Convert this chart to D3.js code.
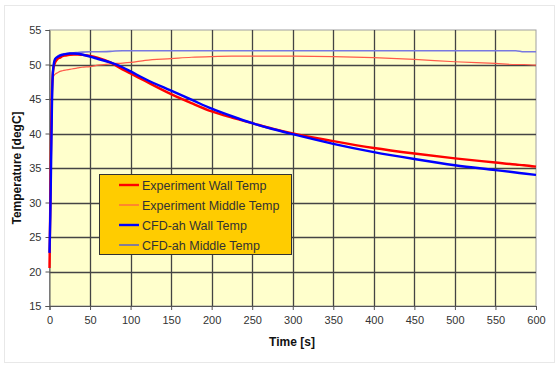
<!DOCTYPE html>
<html><head><meta charset="utf-8">
<script src="https://cdn.jsdelivr.net/npm/d3@7/dist/d3.min.js"></script>
<style>html,body{margin:0;padding:0;background:#fff}svg{display:block}</style>
</head><body><svg id="c" width="560" height="368"></svg>
<script>
const times = [0,1,2,3,4,5,7,10,13,16,20,25,30,35,40,50,60,75,90,100,118,150,175,200,225,250,275,300,350,400,450,500,550,575,585,600];
const expWall = [20.5,30,40,46,48.5,49.5,50.3,50.8,51.0,51.2,51.3,51.4,51.45,51.45,51.4,51.25,50.95,50.3,49.3,48.7,47.6,45.7,44.4,43.2,42.3,41.5,40.7,40.0,38.9,37.9,37.1,36.4,35.8,35.5,35.4,35.2];
const expMiddle = [21,30,40,46.5,47.8,48.3,48.6,48.8,49.0,49.1,49.2,49.3,49.4,49.5,49.6,49.7,49.9,50.1,50.2,50.3,50.6,50.85,51.05,51.15,51.2,51.2,51.2,51.2,51.15,51.0,50.75,50.4,50.15,50.0,50.0,49.9];
const cfdWall = [22.7,28,36,44,48.5,49.8,50.8,51.1,51.3,51.4,51.5,51.6,51.6,51.55,51.45,51.15,50.8,50.3,49.6,49.0,47.9,46.2,44.9,43.6,42.5,41.5,40.65,39.9,38.5,37.3,36.3,35.4,34.7,34.35,34.2,34.0];
const cfdMiddle = [22.7,28,36,44,48.5,49.8,50.8,51.2,51.4,51.5,51.6,51.65,51.7,51.75,51.8,51.85,51.85,51.9,52.0,52.0,52.0,52.0,52.0,52.0,52.0,52.0,52.0,52.0,52.0,52.0,52.0,52.0,52.0,52.0,51.85,51.85];
const seriesNames = ["Experiment Wall Temp","Experiment Middle Temp","CFD-ah Wall Temp","CFD-ah Middle Temp"];
const xTicks = [0,50,100,150,200,250,300,350,400,450,500,550,600];
const yTicks = [15,20,25,30,35,40,45,50,55];

const svg = d3.select("#c");
const m = {l:49.5, r:536, t:30, b:306};
const x = d3.scaleLinear().domain([0,600]).range([m.l,m.r]);
const y = d3.scaleLinear().domain([15,55]).range([m.b,m.t]);

// outer frame
svg.append("rect").attr("x",4.5).attr("y",5.5).attr("width",550).attr("height",357)
  .attr("fill","#fff").attr("stroke","#e8e8e8");

// plot background
svg.append("rect").attr("x",m.l).attr("y",m.t).attr("width",m.r-m.l).attr("height",m.b-m.t)
  .attr("fill","#FFFFCC").attr("stroke","#a0a0a0");

// grid
const g = svg.append("g");
g.selectAll(".vg").data(xTicks.slice(1,-1)).join("line")
  .attr("x1",d=>Math.round(x(d))+0.5).attr("x2",d=>Math.round(x(d))+0.5)
  .attr("y1",m.t).attr("y2",m.b).attr("stroke","#444").attr("stroke-width",1.3);
g.selectAll(".hg").data(yTicks.slice(1,-1)).join("line")
  .attr("y1",d=>Math.round(y(d))+0.5).attr("y2",d=>Math.round(y(d))+0.5)
  .attr("x1",m.l).attr("x2",m.r).attr("stroke","#444").attr("stroke-width",1.3);

// axes
const xa = svg.append("g").attr("transform",`translate(0,${m.b})`)
  .call(d3.axisBottom(x).tickValues(xTicks).tickSize(4).tickPadding(6).tickFormat(d3.format("d")));
const ya = svg.append("g").attr("transform",`translate(${m.l},0)`)
  .call(d3.axisLeft(y).tickValues(yTicks).tickSize(4).tickPadding(4).tickFormat(d3.format("d")));
[xa,ya].forEach(a=>{
  a.select(".domain").attr("stroke","#555");
  a.selectAll(".tick line").attr("stroke","#555");
  a.selectAll("text").attr("font-family","Liberation Sans, Arial, sans-serif").attr("font-size",11).attr("fill","#333");
});

// lines
const line = d3.line().x((d,i)=>x(times[i])).y(d=>y(d)).curve(d3.curveMonotoneX);
const styles = [
  {data:expMiddle, color:"#FF5A4A", w:1.2},
  {data:cfdMiddle, color:"#7878E0", w:1.6},
  {data:expWall, color:"#FF0000", w:2.4},
  {data:cfdWall, color:"#0000FF", w:2.4}
];
styles.forEach(s=>{
  svg.append("path").datum(s.data).attr("d",line).attr("fill","none")
    .attr("stroke",s.color).attr("stroke-width",s.w).attr("stroke-linejoin","round");
});

// axis titles
svg.append("text").attr("x",292).attr("y",346).attr("text-anchor","middle")
  .attr("font-family","Liberation Sans, Arial, sans-serif").attr("font-size",12).attr("font-weight","bold")
  .attr("fill","#111").text("Time [s]");
svg.append("text").attr("transform","translate(21,168) rotate(-90)").attr("text-anchor","middle")
  .attr("font-family","Liberation Sans, Arial, sans-serif").attr("font-size",12).attr("font-weight","bold")
  .attr("fill","#111").text("Temperature [degC]");

// legend
const lg = svg.append("g");
lg.append("rect").attr("x",99.5).attr("y",174.5).attr("width",192).attr("height",80)
  .attr("fill","#FFCC00").attr("stroke","#333");
const legColors = [{c:"#FF0000",w:2.4},{c:"#FF5A4A",w:1.2},{c:"#0000FF",w:2.4},{c:"#6A6AB8",w:1.6}];
seriesNames.forEach((n,i)=>{
  const yy = 185 + i*20;
  lg.append("line").attr("x1",119).attr("x2",139).attr("y1",yy).attr("y2",yy)
    .attr("stroke",legColors[i].c).attr("stroke-width",legColors[i].w);
  lg.append("text").attr("x",142).attr("y",yy+4.5)
    .attr("font-family","Liberation Sans, Arial, sans-serif").attr("font-size",12.5)
    .attr("fill","#333").text(n);
});
</script></body></html>
